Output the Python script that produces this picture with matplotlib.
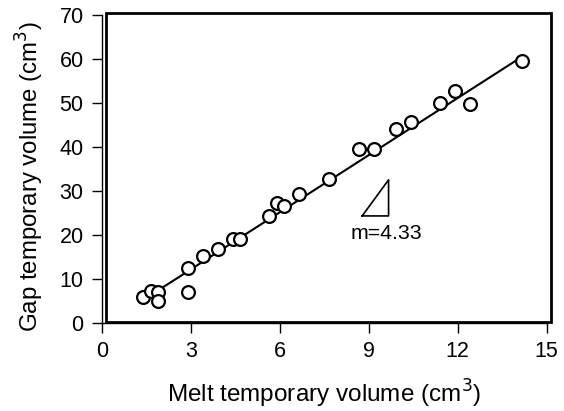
import numpy as np
import matplotlib
matplotlib.use("Agg")
import matplotlib.pyplot as plt
from matplotlib.patches import Rectangle

plt.rcParams['font.family'] = ['Liberation Sans', 'DejaVu Sans']

# measured data
melt_vol = [1.38, 1.66, 1.91, 1.91, 2.90, 2.90, 3.43, 3.91, 4.41, 4.66,
            5.65, 5.90, 6.15, 6.66, 7.65, 8.68, 9.17, 9.92, 10.41, 11.41,
            11.92, 12.41, 14.17]
gap_vol = [6.0, 7.3, 7.2, 5.1, 7.2, 12.5, 15.3, 16.8, 19.2, 19.1,
           24.4, 27.3, 26.7, 29.4, 32.9, 39.7, 39.6, 44.1, 45.7, 50.1,
           52.8, 49.8, 59.6]

# linear fit
slope = 4.33
intercept = -0.76
fit_x = [1.4, 14.2]

xticks = [0, 3, 6, 9, 12, 15]
yticks = [0, 10, 20, 30, 40, 50, 60, 70]

fig = plt.figure(figsize=(5.64, 4.11), dpi=100)
ax = fig.add_axes([0.1803, 0.2134, 0.9693 - 0.1803, 0.9628 - 0.2134])

fx = np.array(fit_x)
ax.plot(fx, slope * fx + intercept, color='black', lw=1.5, zorder=2)
ax.scatter(melt_vol, gap_vol, s=85, facecolors='white', edgecolors='black',
           linewidths=1.6, zorder=3)

# slope triangle
ax.plot([8.78, 9.67, 9.67, 8.78], [24.4, 24.4, 32.6, 24.4], color='black', lw=1.2)
ax.text(9.6, 20.5, 'm=4.33', ha='center', va='center', fontsize=15.3)

ax.set_xlim(0, 15)
ax.set_ylim(0, 70)
ax.set_xticks(xticks)
ax.set_yticks(yticks)
ax.tick_params(direction='out', length=7, width=1, labelsize=15.5, pad=6)
for s in ['top', 'right']:
    ax.spines[s].set_visible(False)
for s in ['left', 'bottom']:
    ax.spines[s].set_linewidth(1)

ax.set_xlabel('Melt temporary volume (cm$^3$)', fontsize=17.5, labelpad=11)
ax.set_ylabel('Gap temporary volume (cm$^3$)', fontsize=17.3, labelpad=10, y=0.475)

# inner frame box
fig.patches.append(Rectangle((106 / 564, 1 - 321.5 / 411), (551 - 106) / 564,
                             (321.5 - 13) / 411, transform=fig.transFigure,
                             fill=False, edgecolor='black', lw=2))

fig.savefig('out.png', dpi=100)
